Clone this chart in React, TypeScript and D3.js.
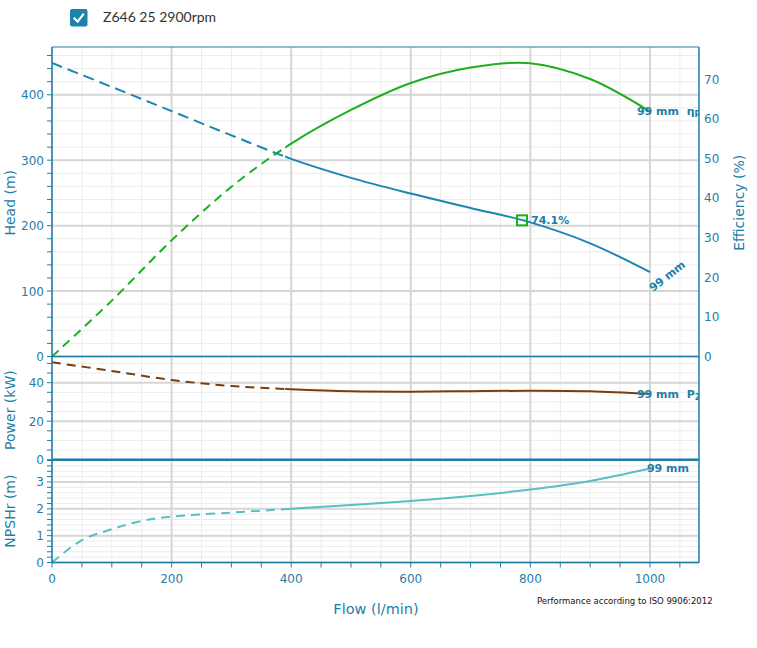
import React from "react";
import * as d3 from "d3";

// ---- data ----
const flow = [0, 100, 200, 300, 400, 500, 600, 700, 800, 900, 1000];
const head = [448.6, 412, 375, 338, 302, 273, 249, 227, 205, 173, 129];
const efficiency = [0, 14.1, 29.3, 42.8, 53.7, 62.2, 69, 72.9, 74.0, 70, 61.8];
const power = [50.6, 46.1, 41.4, 38.3, 36.6, 35.5, 35.3, 35.6, 35.8, 35.5, 34.1];
const npshFlow = [0, 50, 100, 150, 200, 300, 400, 500, 600, 700, 800, 900, 1000];
const npsh = [0, 0.83, 1.24, 1.55, 1.71, 1.86, 2.0, 2.14, 2.29, 2.48, 2.72, 3.04, 3.5];
const minFlow = 390;
const bepFlow = 786;
const bepEff = 74.1;
const flowTicks = [0, 200, 400, 600, 800, 1000];
const headTicks = [0, 100, 200, 300, 400];
const effTicks = [0, 10, 20, 30, 40, 50, 60, 70];
const powerTicks = [0, 20, 40];
const npshTicks = [0, 1, 2, 3];
const legendLabel = "Z646 25 2900rpm";
const curveLabel = "99 mm";

const AX = "#1f7ea8";
const C_HEAD = "#1a87b3";
const C_EFF = "#1eae1e";
const C_POW = "#7a3e0c";
const C_NPSH = "#58bfc4";
const FONT = "'DejaVu Sans', Verdana, sans-serif";

const L = 52, R = 699, T = 47, H0 = 356.5, P0 = 459.7, N0 = 562.5;

export default function App() {
  const x = d3.scaleLinear().domain([0, 1082]).range([L, R]);
  const yHead = d3.scaleLinear().domain([0, 473]).range([H0, T]);
  const yEff = d3.scaleLinear().domain([0, 78.08]).range([H0, T]);
  const yPow = d3.scaleLinear().domain([0, 53.6]).range([P0, H0]);
  const yNpsh = d3.scaleLinear().domain([0, 3.83]).range([N0, P0]);

  const mk = (xs: number[], ys: number[], sy: any) =>
    d3.line<number>().x((_, i) => x(xs[i])).y((v) => sy(v)).curve(d3.curveCatmullRom.alpha(0.5))(ys) || "";

  const headPath = mk(flow, head, yHead);
  const effPath = mk(flow, efficiency, yEff);
  const powPath = mk(flow, power, yPow);
  const npshPath = mk(npshFlow, npsh, yNpsh);

  const bepHead = d3.scaleLinear().domain(flow).range(head)(bepFlow);
  const xs = x(minFlow);

  const minorX = d3.range(0, 1082, 50);
  const majorX = flowTicks;
  const headMinor = d3.range(0, 473, 20);
  const powMinor = d3.range(0, 53.6, 5);
  const npshMinor = d3.range(0, 3.83, 0.2);

  const last = flow.length - 1;
  const nLast = npsh.length - 1;
  const endX = x(flow[last]);

  const curve = (d: string, color: string, clipSolid: string, clipDash: string, dash: string) => (
    <g>
      <path d={d} fill="none" stroke={color} strokeWidth={2} strokeDasharray={dash} clipPath={`url(#${clipDash})`} />
      <path d={d} fill="none" stroke={color} strokeWidth={2} clipPath={`url(#${clipSolid})`} />
    </g>
  );

  return (
    <svg width={757} height={648} style={{ position: "absolute", left: 0, top: 0, background: "#fff" }}>
      <defs>
        <clipPath id="hdash"><rect x={L} y={T} width={xs - L} height={H0 - T} /></clipPath>
        <clipPath id="hsolid"><rect x={xs} y={T} width={R - xs} height={H0 - T} /></clipPath>
        <clipPath id="pdash"><rect x={L} y={H0} width={xs - L} height={P0 - H0} /></clipPath>
        <clipPath id="psolid"><rect x={xs} y={H0} width={R - xs} height={P0 - H0} /></clipPath>
        <clipPath id="ndash"><rect x={L} y={P0} width={xs - L} height={N0 - P0} /></clipPath>
        <clipPath id="nsolid"><rect x={xs} y={P0} width={R - xs} height={N0 - P0} /></clipPath>
        <clipPath id="plot"><rect x={L} y={T} width={R - L} height={N0 - T} /></clipPath>
      </defs>

      {/* legend */}
      <rect x={70} y={9} width={17.5} height={17.5} rx={2} fill="#1b82ad" />
      <path d="M73.8,17.8 L77.6,21.6 L83.8,13.6" fill="none" stroke="#fff" strokeWidth={2.2} />
      <text x={103} y={22} fontFamily="Lato, 'Open Sans', sans-serif" fontSize={14} fill="#333">{legendLabel}</text>

      {/* minor grid */}
      <g stroke="#ececec" strokeWidth={1}>
        {minorX.map((v) => <line key={"mx" + v} x1={x(v)} x2={x(v)} y1={T} y2={N0} />)}
        {headMinor.map((v) => <line key={"mh" + v} x1={L} x2={R} y1={yHead(v)} y2={yHead(v)} />)}
        {powMinor.map((v) => <line key={"mp" + v} x1={L} x2={R} y1={yPow(v)} y2={yPow(v)} />)}
        {npshMinor.map((v) => <line key={"mn" + v} x1={L} x2={R} y1={yNpsh(v)} y2={yNpsh(v)} />)}
      </g>
      {/* major grid */}
      <g stroke="#d6d6d6" strokeWidth={2}>
        {majorX.map((v) => <line key={"Mx" + v} x1={x(v)} x2={x(v)} y1={T} y2={N0} />)}
        {headTicks.map((v) => <line key={"Mh" + v} x1={L} x2={R} y1={yHead(v)} y2={yHead(v)} />)}
        {powerTicks.map((v) => <line key={"Mp" + v} x1={L} x2={R} y1={yPow(v)} y2={yPow(v)} />)}
        {npshTicks.map((v) => <line key={"Mn" + v} x1={L} x2={R} y1={yNpsh(v)} y2={yNpsh(v)} />)}
      </g>

      {/* curves */}
      {curve(headPath, C_HEAD, "hsolid", "hdash", "11,6")}
      {curve(effPath, C_EFF, "hsolid", "hdash", "9,6")}
      {curve(powPath, C_POW, "psolid", "pdash", "9,6")}
      {curve(npshPath, C_NPSH, "nsolid", "ndash", "9,6")}

      {/* BEP */}
      <rect x={x(bepFlow) - 5} y={yHead(bepHead) - 5} width={10} height={10} fill="none" stroke={C_EFF} strokeWidth={2} />
      <text x={x(bepFlow) + 9} y={yHead(bepHead) + 4} fontFamily={FONT} fontWeight="bold" fontSize={11} fill={AX}>{bepEff.toFixed(1)}%</text>

      {/* curve end labels */}
      <g clipPath="url(#plot)" fontFamily={FONT} fontWeight="bold" fontSize={11} fill={AX}>
        <text x={endX - 13} y={yEff(efficiency[last]) + 3}>
          {curveLabel}{"\u00a0\u00a0"}η<tspan fontSize={8} dy={2}>P</tspan>
        </text>
        <text x={endX - 13} y={yPow(power[last]) + 4}>
          {curveLabel}{"\u00a0\u00a0"}P<tspan fontSize={8} dy={2}>2</tspan>
        </text>
        <text x={endX - 3} y={yNpsh(npsh[nLast]) + 3.5}>{curveLabel}</text>
        <text transform={`translate(${endX + 3},${yHead(head[last]) + 20}) rotate(-38)`}>{curveLabel}</text>
      </g>

      {/* axes frame */}
      <g stroke={AX} fill="none">
        <line x1={L} x2={R} y1={T} y2={T} strokeWidth={1} />
        <line x1={L} x2={L} y1={T} y2={N0} strokeWidth={1.5} />
        <line x1={R} x2={R} y1={T} y2={N0} strokeWidth={1.5} />
        <line x1={L} x2={R} y1={H0} y2={H0} strokeWidth={1.5} />
        <line x1={L} x2={R} y1={P0} y2={P0} strokeWidth={2.5} />
        <line x1={L} x2={R} y1={N0} y2={N0} strokeWidth={1.5} />
        {headMinor.map((v) => <line key={"th" + v} x1={L - 5} x2={L} y1={yHead(v)} y2={yHead(v)} />)}
        {powMinor.map((v) => <line key={"tp" + v} x1={L - 5} x2={L} y1={yPow(v)} y2={yPow(v)} />)}
        {npshMinor.map((v) => <line key={"tn" + v} x1={L - 5} x2={L} y1={yNpsh(v)} y2={yNpsh(v)} />)}
        {minorX.map((v) => <line key={"tx" + v} x1={x(v)} x2={x(v)} y1={N0} y2={N0 + 5} />)}
      </g>

      {/* tick labels */}
      <g fontFamily={FONT} fontSize={12} fill={AX}>
        {headTicks.map((v) => <text key={"lh" + v} x={44} y={yHead(v) + 4.5} textAnchor="end">{v}</text>)}
        {powerTicks.map((v) => <text key={"lp" + v} x={44} y={yPow(v) + 4.5} textAnchor="end">{v}</text>)}
        {npshTicks.map((v) => <text key={"ln" + v} x={44} y={yNpsh(v) + 4.5} textAnchor="end">{v}</text>)}
        {effTicks.map((v) => <text key={"le" + v} x={704} y={yEff(v) + 4.5}>{v}</text>)}
        {flowTicks.map((v) => <text key={"lx" + v} x={x(v)} y={583} textAnchor="middle">{v}</text>)}
      </g>

      {/* axis titles */}
      <g fontFamily={FONT} fontSize={14} fill={AX} textAnchor="middle">
        <text transform={`translate(15,${(T + H0) / 2 + 1}) rotate(-90)`}>Head (m)</text>
        <text transform={`translate(15,${(H0 + P0) / 2 + 2}) rotate(-90)`}>Power (kW)</text>
        <text transform={`translate(15,${(P0 + N0) / 2}) rotate(-90)`}>NPSHr (m)</text>
        <text transform={`translate(744,${(T + H0) / 2 + 1}) rotate(-90)`}>Efficiency (%)</text>
        <text x={376} y={614} fontSize={14.5}>Flow (l/min)</text>
      </g>
      <text x={537} y={604} fontFamily={FONT} fontSize={8.5} fill="#111">Performance according to ISO 9906:2012</text>
    </svg>
  );
}
